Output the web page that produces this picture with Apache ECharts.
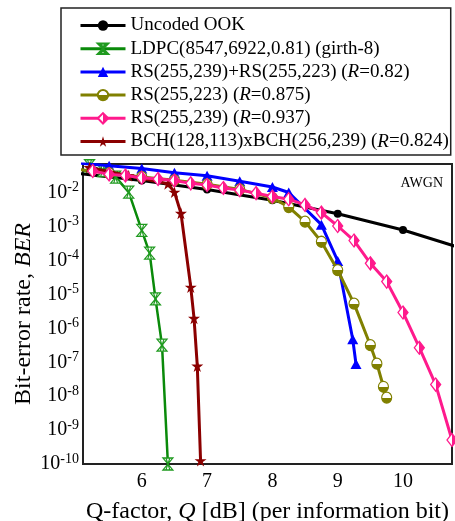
<!DOCTYPE html>
<html>
<head>
<meta charset="utf-8">
<script src="https://cdn.jsdelivr.net/npm/echarts@6/dist/echarts.min.js"></script>
<style>
html,body{margin:0;padding:0;background:#fff;}
#c{width:455px;height:521px;}
</style>
</head>
<body>
<div id="c"></div>
<script>
// ---- data ----
var seriesNames = [
  'Uncoded OOK',
  'LDPC(8547,6922,0.81) (girth-8)',
  'RS(255,239)+RS(255,223) (R=0.82)',
  'RS(255,223) (R=0.875)',
  'RS(255,239) (R=0.937)',
  'BCH(128,113)xBCH(256,239) (R=0.824)'
];

var ookQ   = [5, 6, 7, 8, 9, 10, 11];
var ookBER = [0.038, 0.023, 0.0125, 0.006, 0.0024, 0.0008, 0.0002];

var ldpcQ   = [5.2, 5.4, 5.6, 5.8, 6.0, 6.12, 6.21, 6.31, 6.4];
var ldpcBER = [6.3e-2, 4.5e-2, 2.9e-2, 1.05e-2, 7.8e-4, 1.66e-4, 7.4e-6, 3.2e-7, 1e-10];

var rsrsQ   = [5.0, 5.5, 6.0, 6.5, 7.0, 7.5, 8.0, 8.25, 8.75, 9.0, 9.23, 9.28];
var rsrsBER = [7.6e-2, 6.3e-2, 5.2e-2, 3.9e-2, 3.2e-2, 2.2e-2, 1.48e-2, 1.02e-2, 1.15e-3, 9.8e-5, 4.8e-7, 8.9e-8];

var rs223Q   = [5.0, 5.5, 6.0, 6.5, 7.0, 7.5, 8.0, 8.25, 8.5, 8.75, 9.0, 9.25, 9.5, 9.6, 9.7, 9.75];
var rs223BER = [5.0e-2, 3.8e-2, 2.95e-2, 2.35e-2, 1.78e-2, 1.26e-2, 7.1e-3, 3.8e-3, 1.41e-3, 3.6e-4, 5.2e-5, 5.4e-6, 3.2e-7, 9.1e-8, 1.9e-8, 9.1e-9];

var rs239Q   = [5.25, 5.5, 5.75, 6.0, 6.25, 6.5, 6.75, 7.0, 7.25, 7.5, 7.75, 8.0, 8.25, 8.5, 8.75, 9.0, 9.25, 9.5, 9.75, 10.0, 10.25, 10.5, 10.75];
var rs239BER = [4.4e-2, 3.5e-2, 3.24e-2, 2.8e-2, 2.57e-2, 2.3e-2, 1.9e-2, 1.7e-2, 1.38e-2, 1.2e-2, 9.8e-3, 7.8e-3, 6.5e-3, 4.4e-3, 2.6e-3, 1.05e-3, 3.9e-4, 8.3e-5, 2.4e-5, 2.95e-6, 2.7e-7, 2.2e-8, 5.1e-10];

var bchQ   = [5.2, 5.8, 6.4, 6.5, 6.6, 6.75, 6.8, 6.85, 6.9];
var bchBER = [5.6e-2, 3.2e-2, 1.86e-2, 1.05e-2, 2.5e-3, 1.66e-5, 2.0e-6, 7.8e-8, 1.26e-10];

var xTicks = [6, 7, 8, 9, 10];
var yTickExponents = [-10, -9, -8, -7, -6, -5, -4, -3, -2];

// ---- chart ----
function pairs(q, b) { return q.map(function (v, i) { return [v, b[i]]; }); }
var FONT = "'Liberation Serif', 'Times New Roman', serif";
var starPath = 'path://M50,0 L61,35 L98,35 L68,57 L79,91 L50,70 L21,91 L32,57 L2,35 L39,35 Z';
var hourPath = 'path://M0,0 L10,0 L0,12 L10,12 Z M3,0 L7,12 M7,0 L3,12';

function halfGrad(c, horizontal) {
  return {
    type: 'linear', x: 0, y: 0, x2: horizontal ? 1 : 0, y2: horizontal ? 0 : 1,
    colorStops: [
      {offset: 0, color: '#fff'}, {offset: 0.5, color: '#fff'},
      {offset: 0.5, color: c}, {offset: 1, color: c}
    ]
  };
}

var chart = echarts.init(document.getElementById('c'), null, {renderer: 'canvas'});
var option = {
  animation: false,
  backgroundColor: '#fff',
  textStyle: {fontFamily: FONT},
  grid: {left: 83, right: 3, top: 164, bottom: 57, show: true, borderColor: '#222', borderWidth: 2,
         containLabel: false, outerBoundsMode: 'none'},
  legend: {
    orient: 'vertical',
    left: 61, top: 8,
    padding: [8, 2, 4, 18],
    itemWidth: 45, itemHeight: 13, itemGap: 4.2,
    borderColor: '#222', borderWidth: 1.5,
    backgroundColor: '#fff',
    data: seriesNames,
    lineStyle: {width: 3},
    formatter: function (n) { return n.replace('R=', '{i|R}='); },
    textStyle: {
      fontFamily: FONT, fontSize: 19, color: '#000', lineHeight: 19,
      rich: {i: {fontFamily: FONT, fontSize: 19, fontStyle: 'italic', color: '#000', lineHeight: 19}}
    }
  },
  graphic: [{
    type: 'text', right: 12, top: 176,
    style: {text: 'AWGN', font: '14px ' + FONT, fill: '#000'}
  }],
  xAxis: {
    type: 'value', min: 5.1, max: 10.75,
    splitLine: {show: false},
    axisLine: {show: false}, axisTick: {show: false},
    axisLabel: {
      margin: 8, fontSize: 20, color: '#000', fontFamily: FONT,
      formatter: function (v) { return xTicks.indexOf(v) >= 0 ? String(v) : ''; }
    },
    name: 'Q-factor, {i|Q} [dB] (per information bit)',
    nameLocation: 'middle', nameGap: 36, nameMoveOverlap: false,
    nameTextStyle: {
      fontSize: 24, color: '#000', fontFamily: FONT,
      rich: {i: {fontSize: 24, fontStyle: 'italic', color: '#000', fontFamily: FONT}}
    }
  },
  yAxis: {
    type: 'log', logBase: 10, min: 1e-10, max: 0.0708,
    splitLine: {show: false},
    axisLine: {show: false}, axisTick: {show: false},
    axisLabel: {
      margin: 4, color: '#000',
      formatter: function (v) {
        var e = Math.round(Math.log10(v));
        if (yTickExponents.indexOf(e) < 0) return '';
        return '{b|10}{s|' + e + '}';
      },
      rich: {
        b: {fontSize: 20, fontFamily: FONT, color: '#000', lineHeight: 24},
        s: {fontSize: 14, fontFamily: FONT, color: '#000', verticalAlign: 'top', lineHeight: 14}
      }
    },
    name: 'Bit-error rate, {i|BER}',
    nameLocation: 'middle', nameRotate: 90, nameGap: 47, nameMoveOverlap: false,
    nameTextStyle: {
      fontSize: 24, color: '#000', fontFamily: FONT,
      rich: {i: {fontSize: 24, fontStyle: 'italic', color: '#000', fontFamily: FONT}}
    }
  },
  series: [
    {
      name: seriesNames[0], type: 'line', z: 2, data: pairs(ookQ, ookBER),
      symbol: 'circle', symbolSize: 8,
      lineStyle: {color: '#000', width: 3},
      itemStyle: {color: '#000'}
    },
    {
      name: seriesNames[1], type: 'line', z: 3, data: pairs(ldpcQ, ldpcBER),
      symbol: hourPath, symbolSize: [10, 12], symbolKeepAspect: false,
      lineStyle: {color: '#0a8a0a', width: 2.5},
      itemStyle: {color: 'rgba(255,255,255,0.9)', borderColor: '#1f9a1f', borderWidth: 1.2}
    },
    {
      name: seriesNames[2], type: 'line', z: 4, data: pairs(rsrsQ, rsrsBER),
      symbol: 'triangle', symbolSize: [11, 10],
      lineStyle: {color: '#0000ff', width: 3},
      itemStyle: {color: '#0000ff'}
    },
    {
      name: seriesNames[3], type: 'line', z: 5, data: pairs(rs223Q, rs223BER),
      symbol: 'circle', symbolSize: [10, 11],
      lineStyle: {color: '#808000', width: 3},
      itemStyle: {color: halfGrad('#808000', false), borderColor: '#808000', borderWidth: 1.2}
    },
    {
      name: seriesNames[4], type: 'line', z: 7, data: pairs(rs239Q, rs239BER),
      symbol: 'diamond', symbolSize: [10, 13],
      lineStyle: {color: '#ff1a8c', width: 3},
      itemStyle: {color: halfGrad('#ff1a8c', true), borderColor: '#ff1a8c', borderWidth: 1.3}
    },
    {
      name: seriesNames[5], type: 'line', z: 6, data: pairs(bchQ, bchBER),
      symbol: starPath, symbolSize: [12, 12],
      lineStyle: {color: '#8b0000', width: 3},
      itemStyle: {color: '#8b0000'}
    }
  ]
};
chart.setOption(option);
</script>
</body>
</html>
